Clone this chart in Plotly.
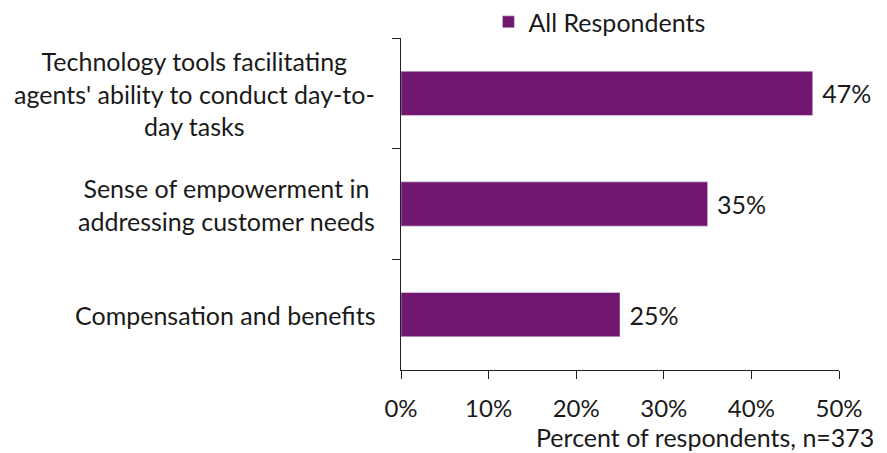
import plotly.graph_objects as go

categories = [
    "Technology tools facilitating<br>agents' ability to conduct day-to-<br>day tasks",
    "Sense of empowerment in<br>addressing customer needs",
    "Compensation and benefits",
]
values = [47, 35, 25]
series_name = "All Respondents"
x_ticks = [0, 10, 20, 30, 40, 50]
x_tick_labels = ["0%", "10%", "20%", "30%", "40%", "50%"]
x_title = "Percent of respondents, n=373"

FONT = "Lato"
TEXT = "#1a1a1a"
BAR = "#721770"
FS = 25

fig = go.Figure()
fig.add_trace(go.Bar(
    y=categories, x=values, orientation="h", name=series_name,
    marker=dict(color=BAR), width=0.4,
    text=[f" {v}%" for v in values], textposition="outside",
    textfont=dict(size=FS, color=TEXT, family=FONT), cliponaxis=False,
    showlegend=True,
))

for c in categories:
    fig.add_annotation(
        x=0, xref="paper", y=c, yref="y", text=c, showarrow=False,
        xanchor="right", align="center", xshift=-24,
        font=dict(size=FS, color=TEXT, family=FONT),
    )

fig.add_annotation(
    x=1.0845, xref="paper", y=0, yref="paper", yshift=-67, text=x_title,
    showarrow=False, xanchor="right", yanchor="middle",
    font=dict(size=FS, color=TEXT, family=FONT),
)

fig.update_layout(
    width=879, height=445,
    margin=dict(l=393, r=48, t=30, b=83, autoexpand=False),
    paper_bgcolor="white", plot_bgcolor="white",
    font=dict(family=FONT, size=FS, color=TEXT),
    legend=dict(orientation="h", x=0.453, xanchor="center", y=1.048, yanchor="middle",
                font=dict(size=FS, color=TEXT, family=FONT), itemwidth=30,
                bgcolor="rgba(0,0,0,0)"),
    xaxis=dict(range=[0, 50], tickvals=x_ticks, ticktext=x_tick_labels,
               showgrid=False, zeroline=False, showline=True, linecolor="#222",
               linewidth=1, ticks="outside", ticklen=8, tickcolor="#222",
               ticklabelstandoff=9, tickfont=dict(size=24, color=TEXT, family=FONT)),
    yaxis=dict(autorange="reversed", showticklabels=False, showgrid=False,
               showline=True, linecolor="#222", linewidth=1, ticks="outside",
               ticklen=8, tickcolor="#222", tickson="boundaries"),
)

fig.write_html("out.html")
